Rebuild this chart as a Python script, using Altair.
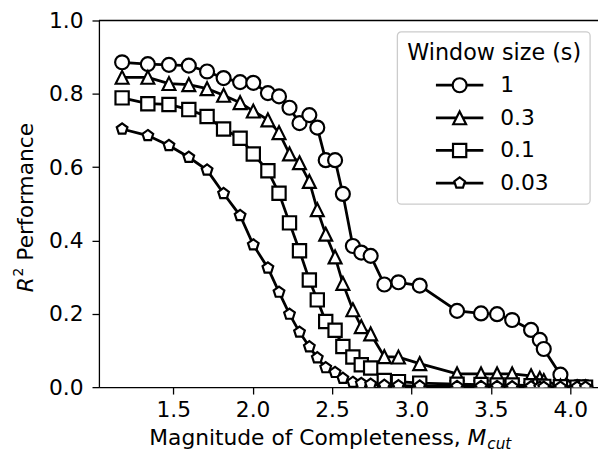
import altair as alt
import pandas as pd

# ---------------- data ----------------
mcut = [1.178, 1.340, 1.473, 1.598, 1.713, 1.817, 1.921, 2.004, 2.096, 2.166,
        2.232, 2.295, 2.357, 2.407, 2.460, 2.519, 2.568, 2.631, 2.684, 2.743,
        2.829, 2.918, 3.052, 3.287, 3.438, 3.539, 3.634, 3.753, 3.808, 3.833,
        3.938, 4.043, 4.096]

r2_w1 = [0.886, 0.881, 0.879, 0.877, 0.861, 0.843, 0.832, 0.830, 0.802, 0.793,
         0.762, 0.720, 0.742, 0.708, 0.619, 0.619, 0.527, 0.385, 0.367, 0.358,
         0.280, 0.286, 0.277, 0.208, 0.201, 0.199, 0.183, 0.156, 0.129, 0.104,
         0.034, 0.000, 0.000]

r2_w03 = [0.845, 0.845, 0.828, 0.825, 0.814, 0.796, 0.776, 0.753, 0.729, 0.694,
          0.636, 0.612, 0.561, 0.484, 0.417, 0.355, 0.283, 0.211, 0.165, 0.145,
          0.083, 0.082, 0.064, 0.036, 0.036, 0.036, 0.036, 0.031, 0.024, 0.018,
          0.003, 0.000, 0.000]

r2_w01 = [0.789, 0.773, 0.771, 0.757, 0.738, 0.704, 0.679, 0.636, 0.590, 0.529,
          0.448, 0.372, 0.292, 0.238, 0.179, 0.155, 0.111, 0.082, 0.061, 0.052,
          0.018, 0.015, 0.011, 0.008, 0.007, 0.006, 0.006, 0.004, 0.003, 0.002,
          0.001, 0.000, 0.000]

r2_w003 = [0.704, 0.686, 0.659, 0.627, 0.592, 0.528, 0.468, 0.388, 0.325, 0.259,
           0.199, 0.150, 0.110, 0.080, 0.053, 0.040, 0.024, 0.013, 0.010, 0.008,
           0.005, 0.004, 0.003, 0.002, 0.002, 0.002, 0.001, 0.001, 0.000, 0.000,
           0.000, 0.000, 0.000]

windows = ["1", "0.3", "0.1", "0.03"]
series = [r2_w1, r2_w03, r2_w01, r2_w003]
x_ticks = [1.5, 2.0, 2.5, 3.0, 3.5, 4.0]
y_ticks = [0.0, 0.2, 0.4, 0.6, 0.8, 1.0]

# ---------------- styling ----------------
FONT = "DejaVu Sans"
TRI = "M0,-1L1,1L-1,1Z"
PENT = "M0,-1L0.951,-0.309L0.588,0.809L-0.588,0.809L-0.951,-0.309Z"
shapes = ["circle", TRI, "square", PENT]
sizes = [200, 170, 180, 130]
LINE_W = 2.8
EDGE_W = 2.2

W, H = 505, 371
PX_PER_UNIT = 160.7
XDOM = [1.032, 1.032 + W / PX_PER_UNIT]

xscale = alt.Scale(domain=XDOM, nice=False, zero=False)
yscale = alt.Scale(domain=[0, 1], nice=False, zero=False)
xaxis = alt.Axis(values=x_ticks, format=".1f", title=None, grid=False,
                 labelPadding=6, labelFlush=False)
yaxis = alt.Axis(values=y_ticks, format=".1f", title=None, grid=False,
                 labelPadding=9, labelFlush=False)

layers = []
for i, (name, vals) in enumerate(zip(windows, series)):
    df = pd.DataFrame({"mcut": mcut, "r2": vals, "window": name})
    enc = dict(x=alt.X("mcut:Q", scale=xscale, axis=xaxis),
               y=alt.Y("r2:Q", scale=yscale, axis=yaxis))
    line = alt.Chart(df).mark_line(color="black", strokeWidth=LINE_W,
                                   clip=True).encode(**enc)
    pts = alt.Chart(df).mark_point(shape=shapes[i], size=sizes[i], filled=True,
                                   fill="white", stroke="black",
                                   strokeWidth=EDGE_W, opacity=1,
                                   clip=True).encode(**enc)
    layers += [line, pts]

one = pd.DataFrame({"k": [0]})


def txt(text, x, y, size=22, style="normal", align="left",
        baseline="alphabetic", angle=None):
    kw = dict(text=text, font=FONT, fontSize=size, fontStyle=style,
              align=align, baseline=baseline, color="black")
    if angle is not None:
        kw["angle"] = angle
    return alt.Chart(one).mark_text(**kw).encode(x=alt.value(x), y=alt.value(y))


# top spine
layers.append(alt.Chart(one).mark_rule(color="black", strokeWidth=1.3).encode(
    x=alt.value(0), x2=alt.value(W), y=alt.value(0)))

# x axis title: "Magnitude of Completeness, M_cut"
xt_start, xt_base = 51, 430
layers.append(txt("Magnitude of Completeness,", xt_start, xt_base))
layers.append(txt("M", xt_start + 322, xt_base, style="italic"))
layers.append(txt("cut", xt_start + 342, xt_base + 4, size=15.4, style="italic"))

# y axis title: "R^2 Performance"
layers.append(txt("R", -67, 275, style="italic", angle=270))
layers.append(txt("2", -77, 259, size=14, angle=270))
layers.append(txt("Performance", -67, 243, angle=270))

# legend
LX0, LX1, LY0, LY1 = 302, 497, 11.5, 185.8
layers.append(alt.Chart(one).mark_rect(fill="white", fillOpacity=0.8,
                                       stroke="#cccccc", strokeWidth=1.3,
                                       cornerRadius=4).encode(
    x=alt.value(LX0), x2=alt.value(LX1), y=alt.value(LY0), y2=alt.value(LY1)))
layers.append(txt("Window size (s)", 400, 39.5, size=22.5, align="center"))
for i, name in enumerate(windows):
    yy = 65.5 + i * 33
    layers.append(alt.Chart(one).mark_rule(color="black", strokeWidth=LINE_W).encode(
        x=alt.value(341), x2=alt.value(389), y=alt.value(yy)))
    layers.append(alt.Chart(one).mark_point(shape=shapes[i], size=sizes[i],
                                            filled=True, fill="white",
                                            stroke="black", strokeWidth=EDGE_W,
                                            opacity=1).encode(
        x=alt.value(365), y=alt.value(yy)))
    layers.append(txt(name, 406, yy, baseline="middle"))

chart = alt.layer(*layers).properties(
    width=W, height=H,
    autosize=alt.AutoSizeParams(type="none"),
    padding={"left": 92, "top": 10, "right": 0, "bottom": 64},
).configure_view(stroke=None).configure_axis(
    labelFont=FONT, labelFontSize=22, labelColor="black",
    domainColor="black", domainWidth=1.3, tickColor="black",
    tickWidth=1.3, tickSize=7,
)

chart.save("out.html", embed_options={"renderer": "svg", "actions": False})
